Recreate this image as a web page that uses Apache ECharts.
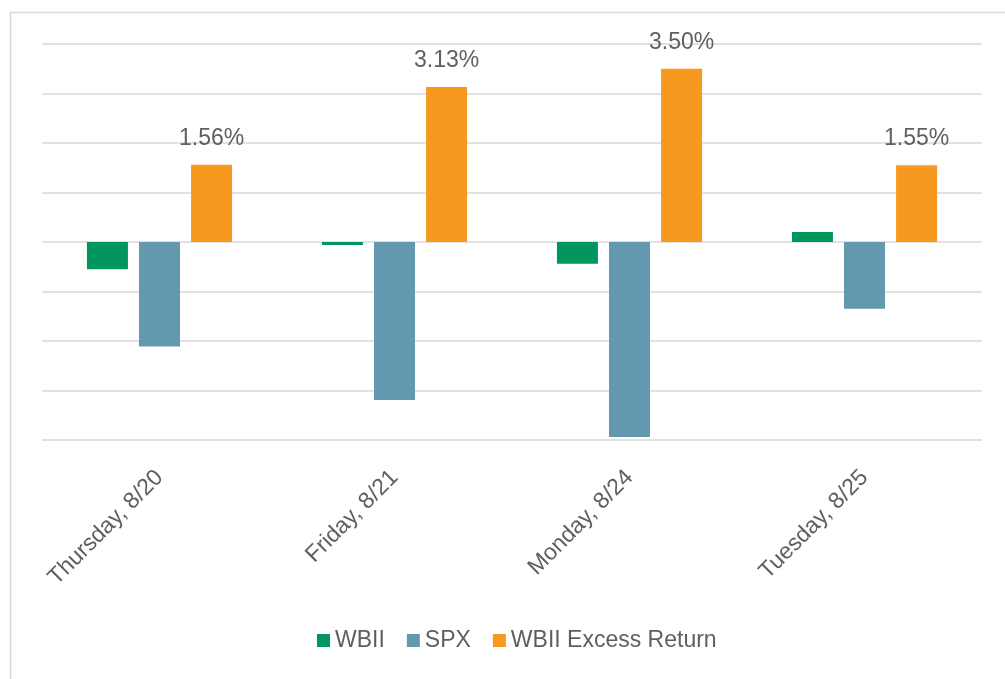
<!DOCTYPE html>
<html>
<head>
<meta charset="utf-8">
<script src="https://cdn.jsdelivr.net/npm/echarts@6/dist/echarts.min.js"></script>
<style>
  html, body { margin: 0; padding: 0; background: #fff; }
  #chart { width: 1005px; height: 679px; }
</style>
</head>
<body>
<div id="chart"></div>
<script>
var days = ['Thursday, 8/20', 'Friday, 8/21', 'Monday, 8/24', 'Tuesday, 8/25'];
var wbii = [-0.55, -0.06, -0.44, 0.20];
var spx = [-2.11, -3.19, -3.94, -1.35];
var excess = [1.56, 3.13, 3.50, 1.55];

var textColor = '#5f5f5f';
var lineColor = '#d9d9d9';
var font = 'Liberation Sans';

var chart = echarts.init(document.getElementById('chart'));

var option = {
  animation: false,
  color: ['#00965E', '#6399AE', '#F7981F'],
  textStyle: { fontFamily: font },
  graphic: [{
    type: 'rect',
    left: 8,
    top: 10,
    shape: { width: 1100, height: 800 },
    style: { fill: 'none', stroke: lineColor, lineWidth: 1.5 },
    silent: true
  }],
  grid: {
    left: 42,
    right: 23,
    top: 44,
    bottom: 239
  },
  legend: {
    left: 312,
    top: 624,
    itemWidth: 13,
    itemHeight: 13,
    itemGap: 22,
    icon: 'rect',
    textStyle: { color: textColor, fontSize: 23, fontFamily: font },
    data: ['WBII', 'SPX', 'WBII Excess Return']
  },
  xAxis: {
    type: 'category',
    data: days,
    axisLine: { show: false, onZero: false },
    axisTick: { show: false },
    axisLabel: {
      rotate: 45,
      interval: 0,
      margin: 34,
      color: textColor,
      fontSize: 23,
      fontFamily: font
    }
  },
  yAxis: {
    type: 'value',
    min: -4,
    max: 4,
    interval: 1,
    axisLabel: { show: false },
    axisLine: { show: false },
    axisTick: { show: false },
    splitLine: { show: true, lineStyle: { color: lineColor, width: 1.5 } }
  },
  series: [{
    name: 'WBII',
    type: 'bar',
    data: wbii,
    barWidth: 41,
    barGap: '27%'
  }, {
    name: 'SPX',
    type: 'bar',
    data: spx,
    barWidth: 41,
    barGap: '27%'
  }, {
    name: 'WBII Excess Return',
    type: 'bar',
    data: excess,
    barWidth: 41,
    barGap: '27%',
    label: {
      show: true,
      position: 'top',
      distance: 15,
      color: textColor,
      fontSize: 23,
      fontFamily: font,
      formatter: function (p) { return p.value.toFixed(2) + '%'; }
    }
  }]
};

chart.setOption(option);
</script>
</body>
</html>
